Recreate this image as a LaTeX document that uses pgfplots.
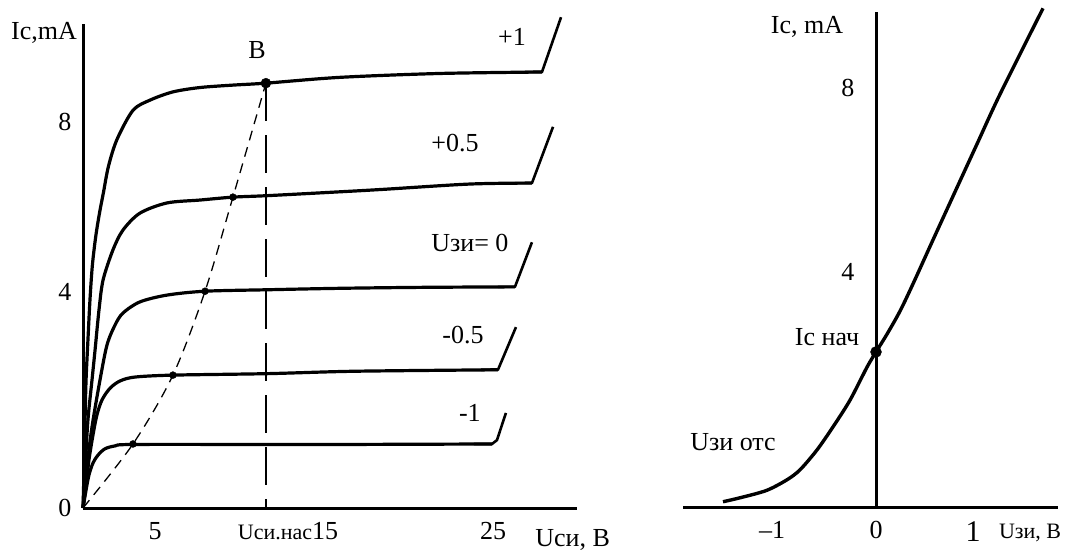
\documentclass[border=0pt]{standalone}
\usepackage{fontspec}
\setmainfont{Liberation Serif}
\usepackage{pgfplots}
\pgfplotsset{compat=1.18}
\newcommand\lbl{\fontsize{26}{28}\selectfont}
\newcommand\slbl{\fontsize{22}{24}\selectfont}
\begin{document}
\begin{tikzpicture}
\useasboundingbox (0,0) rectangle (1075pt,555pt);
% ---------------- left: output characteristics ----------------
\begin{axis}[
  at={(83pt,47pt)}, anchor=south west,
  scale only axis, width=494pt, height=484pt,
  xmin=0, xmax=29.06, ymin=0, ymax=9.98,
  axis x line=bottom, axis y line=left,
  axis line style={line width=3pt,-},
  xtick={4.24,12.06,24.12},
  xticklabels={5,{\slbl Uси.нас}15,25},
  ytick={0,4.45,7.96}, yticklabels={0,4,8},
  major tick length=0pt,
  tick label style={font=\lbl},
  xticklabel style={yshift=-11pt},
  yticklabel style={xshift=-8pt},
  clip=false,
]
% +1
\addplot[black, line width=3.2pt, smooth, tension=0.5] coordinates {
 (0,0) (0.06,0.78) (0.12,1.81) (0.18,2.64) (0.29,3.46) (0.41,4.29) (0.55,5.0)
 (0.75,5.6) (0.98,6.1) (1.2,6.5) (1.5,7.05) (2.0,7.6) (2.94,8.2)
 (3.94,8.41) (5.29,8.58) (6.88,8.67) (8.82,8.72) (10.76,8.76) (15.12,8.88)
 (21.0,8.96) (27.0,8.99)};
\addplot[black, line width=2.6pt, line join=round] coordinates {(26.0,8.99) (27.0,8.99) (28.12,10.12)};
% +0.5
\addplot[black, line width=3.2pt, smooth, tension=0.5] coordinates {
 (0,0) (0.12,0.78) (0.29,1.81) (0.53,2.64) (0.71,3.26) (0.94,4.08) (1.18,4.70)
 (1.76,5.32) (2.35,5.73) (3.35,6.08) (4.94,6.29) (6.88,6.35) (8.82,6.41)
 (10.82,6.44) (15.12,6.52) (17.65,6.57) (22.76,6.68) (26.41,6.70)};
\addplot[black, line width=2.6pt, line join=round] coordinates {(25.4,6.70) (26.41,6.70) (27.65,7.86)};
% 0
\addplot[black, line width=3.2pt, smooth, tension=0.5] coordinates {
 (0,0) (0.18,0.58) (0.35,1.20) (0.59,1.81) (1.0,2.64) (1.41,3.36) (1.88,3.77)
 (2.35,4.02) (3.35,4.25) (4.94,4.39) (7.18,4.47) (10.82,4.50) (15.12,4.53)
 (20.0,4.55) (25.41,4.56)};
\addplot[black, line width=2.6pt, line join=round] coordinates {(24.4,4.56) (25.41,4.56) (26.41,5.48)};
% -0.5
\addplot[black, line width=3.2pt, smooth, tension=0.5] coordinates {
 (0,0) (0.18,0.47) (0.35,0.99) (0.59,1.51) (0.82,1.92) (1.12,2.23) (1.59,2.47)
 (2.18,2.62) (3.06,2.70) (5.29,2.74) (10.82,2.77) (16.0,2.82) (24.41,2.85)};
\addplot[black, line width=2.6pt, line join=round] coordinates {(23.4,2.85) (24.41,2.85) (25.47,3.73)};
% -1
\addplot[black, line width=3.2pt, smooth, tension=0.5] coordinates {
 (0,0) (0.18,0.37) (0.35,0.68) (0.59,0.93) (0.88,1.09) (1.29,1.22) (1.88,1.28)
 (2.94,1.31) (10.82,1.31) (15.12,1.31) (24.06,1.32)};
\addplot[black, line width=2.6pt, line join=round] coordinates {(23.0,1.32) (24.06,1.32) (24.35,1.40) (24.88,1.96)};
% saturation boundary (dashed)
\addplot[black, line width=1.3pt, dash pattern=on 10pt off 7pt, smooth] coordinates {
 (0,0) (2.94,1.32) (5.29,2.74) (7.18,4.47) (8.82,6.41) (10.76,8.76)};
\addplot[black, line width=1.6pt, dash pattern=on 38pt off 14pt] coordinates {(10.76,8.76) (10.76,0)};
\addplot[black, only marks, mark=*, mark size=3.5pt] coordinates {
 (2.94,1.32) (5.29,2.74) (7.18,4.47) (8.82,6.41)};
\addplot[black, only marks, mark=*, mark size=5pt] coordinates {(10.76,8.76)};
% labels
\node[font=\lbl] at (axis cs:-2.29,9.79) {Ic,mA};
\node[font=\lbl] at (axis cs:10.24,9.44) {В};
\node[font=\lbl] at (axis cs:25.24,9.71) {+1};
\node[font=\lbl] at (axis cs:21.88,7.53) {+0.5};
\node[font=\lbl] at (axis cs:22.76,5.46) {Uзи= 0};
\node[font=\lbl] at (axis cs:22.35,3.57) {-0.5};
\node[font=\lbl] at (axis cs:22.76,1.96) {-1};
\node[font=\lbl] at (axis cs:28.8,-0.66) {Uси, В};
\end{axis}
% ---------------- right: transfer characteristic ----------------
\begin{axis}[
  at={(683pt,48pt)}, anchor=south west,
  scale only axis, width=375pt, height=495pt,
  xmin=-1.93, xmax=1.82, ymin=0, ymax=9.45,
  axis x line=bottom, axis y line=center,
  axis line style={line width=3pt,-},
  xtick={-1.04,0,0.97},
  xticklabels={–1,0,{\raisebox{-5pt}{\fontsize{30}{30}\selectfont 1}}},
  ytick={4.48,8}, yticklabels={4,8},
  major tick length=0pt,
  tick label style={font=\lbl},
  xticklabel style={yshift=-11pt},
  yticklabel style={xshift=-18pt},
  clip=false,
]
\addplot[black, line width=3.4pt, smooth, tension=0.5] coordinates {
 (-1.53,0.10) (-1.33,0.19) (-1.09,0.32) (-0.89,0.52) (-0.76,0.71) (-0.59,1.09)
 (-0.43,1.53) (-0.26,2.04) (-0.09,2.67) (0,2.96) (0.11,3.30) (0.24,3.74)
 (0.37,4.26) (0.57,5.10) (0.81,6.10) (1.01,6.93) (1.24,7.88) (1.67,9.52)};
\addplot[black, only marks, mark=*, mark size=5.5pt] coordinates {(0,2.96)};
\node[font=\lbl] at (axis cs:-0.69,9.16) {Ic, mA};
\node[font=\lbl] at (axis cs:-0.49,3.24) {Ic нач};
\node[font=\lbl] at (axis cs:-1.43,1.24) {Uзи отс};
\node[font=\slbl] at (axis cs:1.54,-0.5) {Uзи, В};
\end{axis}
\end{tikzpicture}
\end{document}
